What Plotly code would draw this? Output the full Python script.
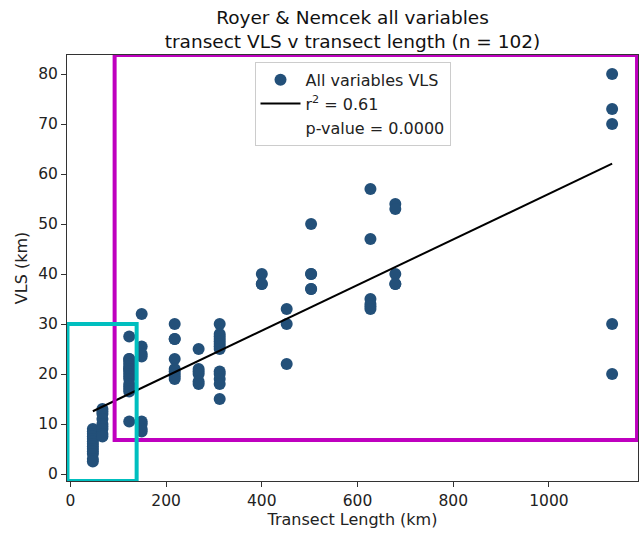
import numpy as np
import plotly.graph_objects as go

# ---- data ----
transect_length = (
    [47] * 13 + [67] * 9 + [123] * 17 + [149] * 8 + [218] * 9 + [268] * 6 +
    [312] * 13 + [400] * 3 + [452] * 3 + [503] * 5 + [627] * 6 + [679] * 5 + [1132] * 5
)
vls = (
    [9, 8.5, 8, 7.5, 7, 6.5, 6, 5.5, 5, 4.5, 4, 3, 2.5] +
    [13, 12.5, 12, 11, 10, 9.5, 9, 8, 7.5] +
    [27.5, 23, 23, 22.5, 22, 21.5, 21, 21, 20.5, 20, 19.5, 19, 18, 17.5, 17, 16.5, 10.5] +
    [32, 25.5, 24, 23.5, 10.5, 10, 9, 8.5] +
    [30, 27, 27, 23, 21, 20.5, 20, 19.5, 19] +
    [25, 21, 20.5, 20, 18.5, 18] +
    [30, 28, 27.5, 27, 26.5, 26, 25.5, 25, 20.5, 20, 19, 18, 15] +
    [40, 38, 38] +
    [33, 30, 22] +
    [50, 40, 40, 37, 37] +
    [57, 47, 35, 34, 33.5, 33] +
    [54, 53, 40, 38, 38] +
    [80, 73, 70, 30, 20]
)
scatter_label = "All variables VLS"
fit_label = "r<sup>2</sup> = 0.61"
pvalue_label = "p-value = 0.0000"
title_text = "Royer & Nemcek all variables<br>transect VLS v transect length (n = 102)"
x_ticks = [0, 200, 400, 600, 800, 1000]
y_ticks = [0, 10, 20, 30, 40, 50, 60, 70, 80]
x_range = [-7, 1186]
y_range = [-1.4, 83.8]
# highlight boxes [x0, x1, y0, y1] in data units
cyan_box = [-6, 138.5, -1.4, 30]
magenta_box = [92.5, 1184, 6.8, 83.8]

x = np.array(transect_length, dtype=float)
y = np.array(vls, dtype=float)
slope, intercept = np.polyfit(x, y, 1)
line_x = np.array([x.min(), x.max()])
line_y = slope * line_x + intercept

FONT = "DejaVu Sans"
fig = go.Figure()
fig.add_trace(go.Scatter(
    x=x, y=y, mode="markers", name=scatter_label, legendgroup="a",
    marker=dict(color="#235079", size=12, line=dict(width=0)),
))
fig.add_trace(go.Scatter(
    x=line_x, y=line_y, mode="lines", name=fit_label, legendgroup="b",
    line=dict(color="black", width=2),
))
fig.add_trace(go.Scatter(
    x=[None], y=[None], mode="markers", name=pvalue_label, legendgroup="c",
    marker=dict(color="rgba(0,0,0,0)", size=8),
))

for box, col in ((magenta_box, "#BF00BF"), (cyan_box, "#00BFBF")):
    fig.add_shape(type="rect", xref="x", yref="y",
                  x0=box[0], x1=box[1], y0=box[2], y1=box[3],
                  line=dict(color=col, width=4), layer="above")

axis_common = dict(
    showline=True, mirror=True, linecolor="#333333", linewidth=1,
    ticks="outside", ticklen=5, tickcolor="#333333", showgrid=False,
    zeroline=False, automargin=False,
    tickfont=dict(family=FONT, size=15.5, color="#222222"),
)
fig.update_layout(
    width=644, height=537,
    margin=dict(l=67, r=6, t=55, b=56, autoexpand=False),
    paper_bgcolor="white", plot_bgcolor="white",
    font=dict(family=FONT, color="#222222"),
    title=dict(
        text=title_text,
        x=0.5, xref="paper", xanchor="center",
        y=1 - 24 / 537, yref="container", yanchor="top",
        font=dict(family=FONT, size=18.5, color="#111111"),
        automargin=False,
    ),
    xaxis=dict(range=x_range, tickvals=x_ticks, **axis_common,
               title=dict(text="Transect Length (km)", standoff=5,
                          font=dict(family=FONT, size=16, color="#222222"))),
    yaxis=dict(range=y_range, tickvals=y_ticks, **axis_common,
               title=dict(text="VLS (km)", standoff=6,
                          font=dict(family=FONT, size=16, color="#222222"))),
    legend=dict(
        x=0.5, xanchor="center", y=0.984, yanchor="top",
        bordercolor="#cccccc", borderwidth=1, bgcolor="rgba(255,255,255,0.8)",
        font=dict(family=FONT, size=16, color="#222222"),
        traceorder="grouped", tracegroupgap=0, itemwidth=40,
    ),
    showlegend=True,
)

fig.write_html("out.html", config={"displayModeBar": False},
               post_script="document.body.style.margin='0';")
